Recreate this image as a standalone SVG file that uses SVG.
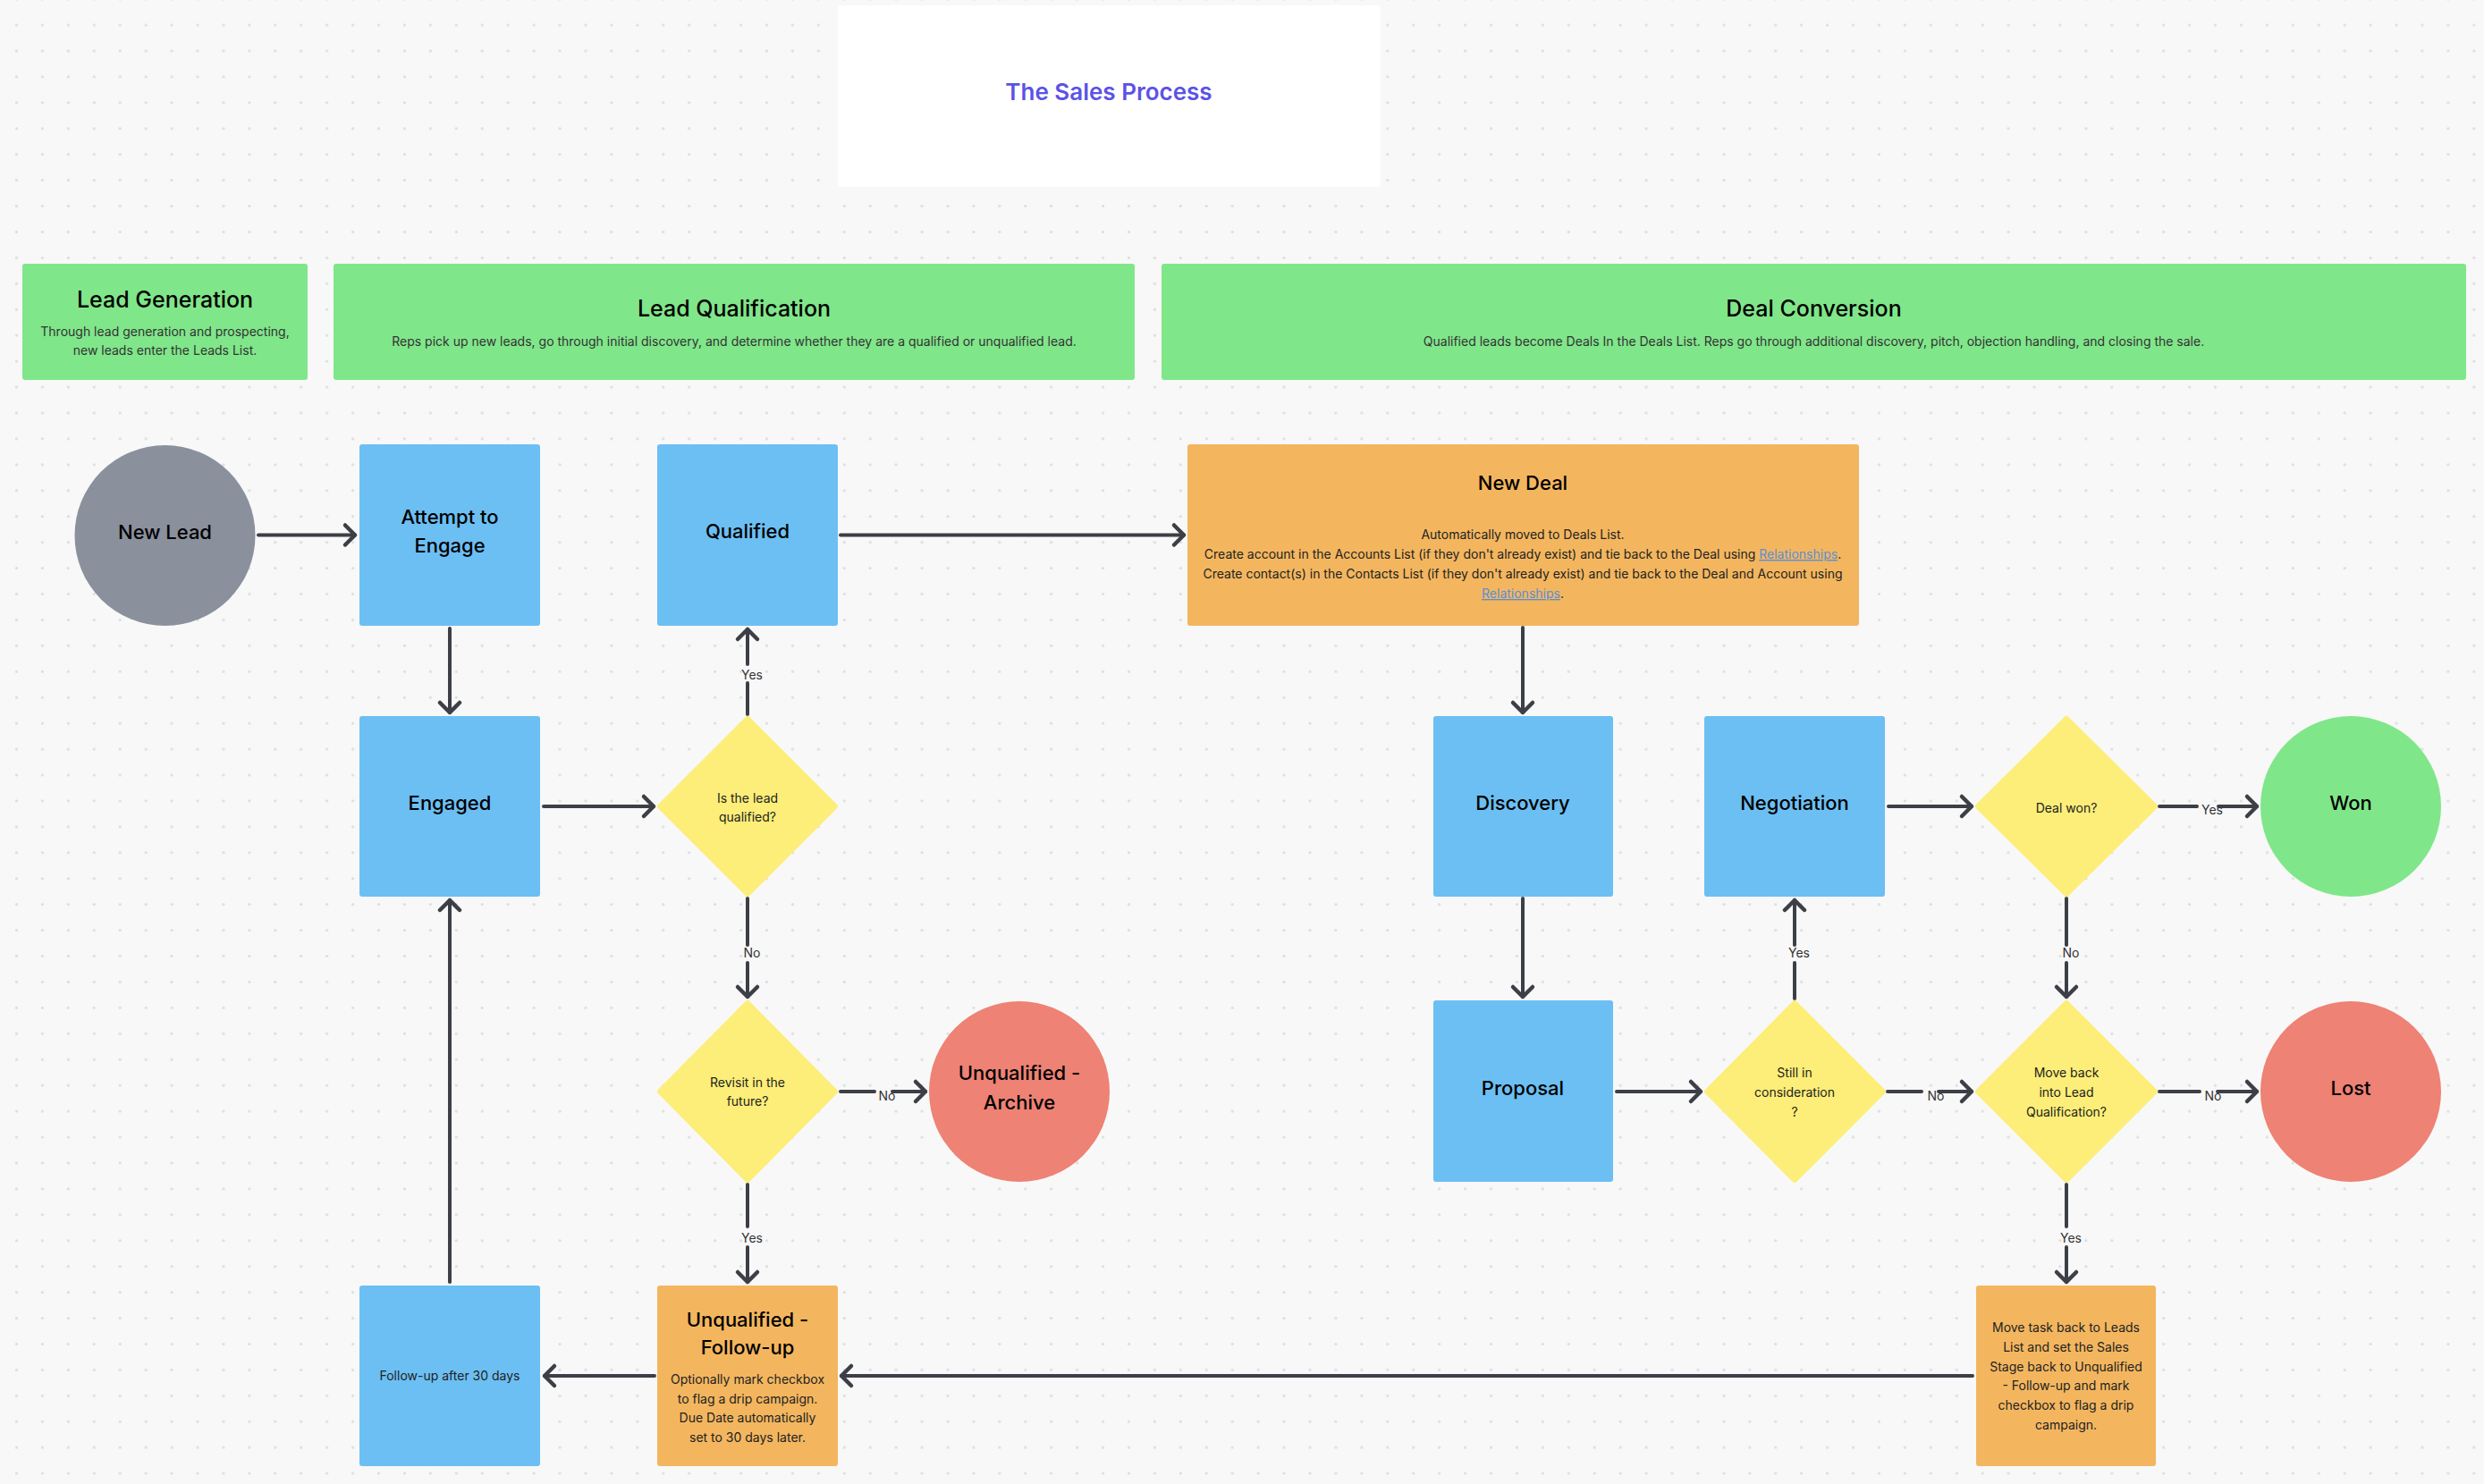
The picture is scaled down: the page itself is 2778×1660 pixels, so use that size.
<svg xmlns="http://www.w3.org/2000/svg" width="2778" height="1660" viewBox="0 0 2778 1660">
<defs>
<pattern id="dots" width="28.93" height="28.93" patternUnits="userSpaceOnUse" x="4.035" y="13.535">
<circle cx="14.465" cy="14.465" r="1.6" fill="#dcdde1"/>
</pattern>
<marker id="arr" viewBox="-16 -16 20 32" refX="0" refY="0" markerWidth="20" markerHeight="32" markerUnits="userSpaceOnUse" orient="auto">
<path d="M-11,-11 L0,0 L-11,11" fill="none" stroke="#3c3f46" stroke-width="4.5" stroke-linecap="round" stroke-linejoin="round"/>
</marker>
<style>
text{font-family:Inter,"Noto Sans","Liberation Sans",sans-serif;}
.hdr{fill:#80e68a;}
.blue{fill:#6cbff3;}
.orange{fill:#f3b65f;}
.yellow{fill:#fcee78;stroke:#fcee78;stroke-width:6;stroke-linejoin:round;}
.ht{font-size:25px;font-weight:500;fill:#000;text-anchor:middle;}
.hs{font-size:14px;fill:#333;text-anchor:middle;}
.nt{font-size:22px;font-weight:500;fill:#000;text-anchor:middle;}
.st{font-size:14px;fill:#222;text-anchor:middle;}
.lbl{font-size:14px;fill:#333;text-anchor:middle;}
.link{fill:#5b8fd6;text-decoration:underline;}
.con path{fill:none;stroke:#3c3f46;stroke-width:4;stroke-linecap:round;}
</style>
</defs>
<rect width="2778" height="1660" fill="#f8f8f8"/>
<rect width="2778" height="1660" fill="url(#dots)"/>

<g id="title">
<rect x="937" y="6" width="607" height="203" rx="4" fill="#ffffff"/>
<text x="1240" y="112" font-size="26" font-weight="600" fill="#5b52e6" text-anchor="middle">The Sales Process</text>
</g>

<g id="lead-generation">
<rect class="hdr" x="25" y="295" width="319" height="130" rx="3"/>
<text class="ht" x="184.5" y="344">Lead Generation</text>
<text class="hs" x="184.5" y="376">Through lead generation and prospecting,</text>
<text class="hs" x="184.5" y="397">new leads enter the Leads List.</text>
</g>

<g id="lead-qualification">
<rect class="hdr" x="373" y="295" width="896" height="130" rx="3"/>
<text class="ht" x="821" y="354">Lead Qualification</text>
<text class="hs" x="821" y="387">Reps pick up new leads, go through initial discovery, and determine whether they are a qualified or unqualified lead.</text>
</g>

<g id="deal-conversion">
<rect class="hdr" x="1299" y="295" width="1459" height="130" rx="3"/>
<text class="ht" x="2028.5" y="354">Deal Conversion</text>
<text class="hs" x="2028.5" y="387">Qualified leads become Deals In the Deals List. Reps go through additional discovery, pitch, objection handling, and closing the sale.</text>
</g>

<g id="connectors" class="con">
<path d="M289,598.5 H397" marker-end="url(#arr)"/>
<path d="M503,703 V797" marker-end="url(#arr)"/>
<path d="M608,902 H731" marker-end="url(#arr)"/>
<path d="M836,799 V764"/>
<path d="M836,743 V704" marker-end="url(#arr)"/>
<path d="M940,598.5 H1324" marker-end="url(#arr)"/>
<path d="M836,1005 V1057"/>
<path d="M836,1077 V1115" marker-end="url(#arr)"/>
<path d="M940,1221 H978"/>
<path d="M998,1221 H1035" marker-end="url(#arr)"/>
<path d="M836,1325 V1372"/>
<path d="M836,1395 V1434" marker-end="url(#arr)"/>
<path d="M732,1539 H609" marker-end="url(#arr)"/>
<path d="M503,1434 V1007" marker-end="url(#arr)"/>
<path d="M2206,1539 H941" marker-end="url(#arr)"/>
<path d="M1703,702 V797" marker-end="url(#arr)"/>
<path d="M1703,1005 V1115" marker-end="url(#arr)"/>
<path d="M1808,1221 H1902" marker-end="url(#arr)"/>
<path d="M2007,1117 V1077"/>
<path d="M2007,1057 V1007" marker-end="url(#arr)"/>
<path d="M2112,902 H2205" marker-end="url(#arr)"/>
<path d="M2415,902 H2457"/>
<path d="M2481,902 H2524" marker-end="url(#arr)"/>
<path d="M2311,1005 V1057"/>
<path d="M2311,1077 V1115" marker-end="url(#arr)"/>
<path d="M2111,1221 H2149"/>
<path d="M2168,1221 H2205" marker-end="url(#arr)"/>
<path d="M2415,1221 H2460"/>
<path d="M2480,1221 H2524" marker-end="url(#arr)"/>
<path d="M2311,1325 V1372"/>
<path d="M2311,1395 V1434" marker-end="url(#arr)"/>
<text class="lbl" x="841" y="760">Yes</text>
<text class="lbl" x="841" y="1071">No</text>
<text class="lbl" x="992" y="1231">No</text>
<text class="lbl" x="841" y="1390">Yes</text>
<text class="lbl" x="2012" y="1071">Yes</text>
<text class="lbl" x="2474" y="911">Yes</text>
<text class="lbl" x="2316" y="1071">No</text>
<text class="lbl" x="2165" y="1231">No</text>
<text class="lbl" x="2475" y="1231">No</text>
<text class="lbl" x="2316" y="1390">Yes</text>
</g>

<g id="new-lead">
<circle cx="184.5" cy="599" r="101" fill="#8a909c"/>
<text class="nt" x="184.5" y="603">New Lead</text>
</g>

<g id="attempt-to-engage">
<rect class="blue" x="402" y="497" width="202" height="203" rx="3"/>
<text class="nt" x="503" y="586">Attempt to</text>
<text class="nt" x="503" y="618">Engage</text>
</g>

<g id="qualified">
<rect class="blue" x="735" y="497" width="202" height="203" rx="3"/>
<text class="nt" x="836" y="602">Qualified</text>
</g>

<g id="new-deal">
<rect class="orange" x="1328" y="497" width="751" height="203" rx="3"/>
<text class="nt" x="1703" y="548">New Deal</text>
<text class="st" x="1703" y="603">Automatically moved to Deals List.</text>
<text class="st" x="1703" y="625">Create account in the Accounts List (if they don't already exist) and tie back to the Deal using <tspan class="link">Relationships</tspan>.</text>
<text class="st" x="1703" y="647">Create contact(s) in the Contacts List (if they don't already exist) and tie back to the Deal and Account using</text>
<text class="st" x="1703" y="669"><tspan class="link">Relationships</tspan>.</text>
</g>

<g id="engaged">
<rect class="blue" x="402" y="801" width="202" height="202" rx="3"/>
<text class="nt" x="503" y="906">Engaged</text>
</g>

<g id="is-lead-qualified">
<polygon class="yellow" points="836,804 934,902 836,1000 738,902"/>
<text class="st" x="836" y="898">Is the lead</text>
<text class="st" x="836" y="919">qualified?</text>
</g>

<g id="revisit">
<polygon class="yellow" points="836,1122 934,1221 836,1320 738,1221"/>
<text class="st" x="836" y="1216">Revisit in the</text>
<text class="st" x="836" y="1237">future?</text>
</g>

<g id="unqualified-archive">
<circle cx="1140" cy="1221" r="101" fill="#ee8274"/>
<text class="nt" x="1140" y="1208">Unqualified -</text>
<text class="nt" x="1140" y="1241">Archive</text>
</g>

<g id="unqualified-follow-up">
<rect class="orange" x="735" y="1438" width="202" height="202" rx="3"/>
<text class="nt" x="836" y="1484">Unqualified -</text>
<text class="nt" x="836" y="1515">Follow-up</text>
<text class="st" x="836" y="1548">Optionally mark checkbox</text>
<text class="st" x="836" y="1570">to flag a drip campaign.</text>
<text class="st" x="836" y="1591">Due Date automatically</text>
<text class="st" x="836" y="1613">set to 30 days later.</text>
</g>

<g id="follow-up-30">
<rect class="blue" x="402" y="1438" width="202" height="202" rx="3"/>
<text class="st" x="503" y="1544">Follow-up after 30 days</text>
</g>

<g id="discovery">
<rect class="blue" x="1603" y="801" width="201" height="202" rx="3"/>
<text class="nt" x="1703" y="906">Discovery</text>
</g>

<g id="negotiation">
<rect class="blue" x="1906" y="801" width="202" height="202" rx="3"/>
<text class="nt" x="2007" y="906">Negotiation</text>
</g>

<g id="deal-won">
<polygon class="yellow" points="2311,804 2410,902 2311,1000 2212,902"/>
<text class="st" x="2311" y="909">Deal won?</text>
</g>

<g id="won">
<circle cx="2629" cy="902" r="101" fill="#80e68a"/>
<text class="nt" x="2629" y="906">Won</text>
</g>

<g id="proposal">
<rect class="blue" x="1603" y="1119" width="201" height="203" rx="3"/>
<text class="nt" x="1703" y="1225">Proposal</text>
</g>

<g id="still-in-consideration">
<polygon class="yellow" points="2007,1122 2106,1221 2007,1320 1909,1221"/>
<text class="st" x="2007" y="1205">Still in</text>
<text class="st" x="2007" y="1227">consideration</text>
<text class="st" x="2007" y="1249">?</text>
</g>

<g id="move-back">
<polygon class="yellow" points="2311,1122 2410,1221 2311,1320 2212,1221"/>
<text class="st" x="2311" y="1205">Move back</text>
<text class="st" x="2311" y="1227">into Lead</text>
<text class="st" x="2311" y="1249">Qualification?</text>
</g>

<g id="lost">
<circle cx="2629" cy="1221" r="101" fill="#ee8274"/>
<text class="nt" x="2629" y="1225">Lost</text>
</g>

<g id="move-task-back">
<rect class="orange" x="2210" y="1438" width="201" height="202" rx="3"/>
<text class="st" x="2310.5" y="1490">Move task back to Leads</text>
<text class="st" x="2310.5" y="1512">List and set the Sales</text>
<text class="st" x="2310.5" y="1534">Stage back to Unqualified</text>
<text class="st" x="2310.5" y="1555">- Follow-up and mark</text>
<text class="st" x="2310.5" y="1577">checkbox to flag a drip</text>
<text class="st" x="2310.5" y="1599">campaign.</text>
</g>
</svg>
